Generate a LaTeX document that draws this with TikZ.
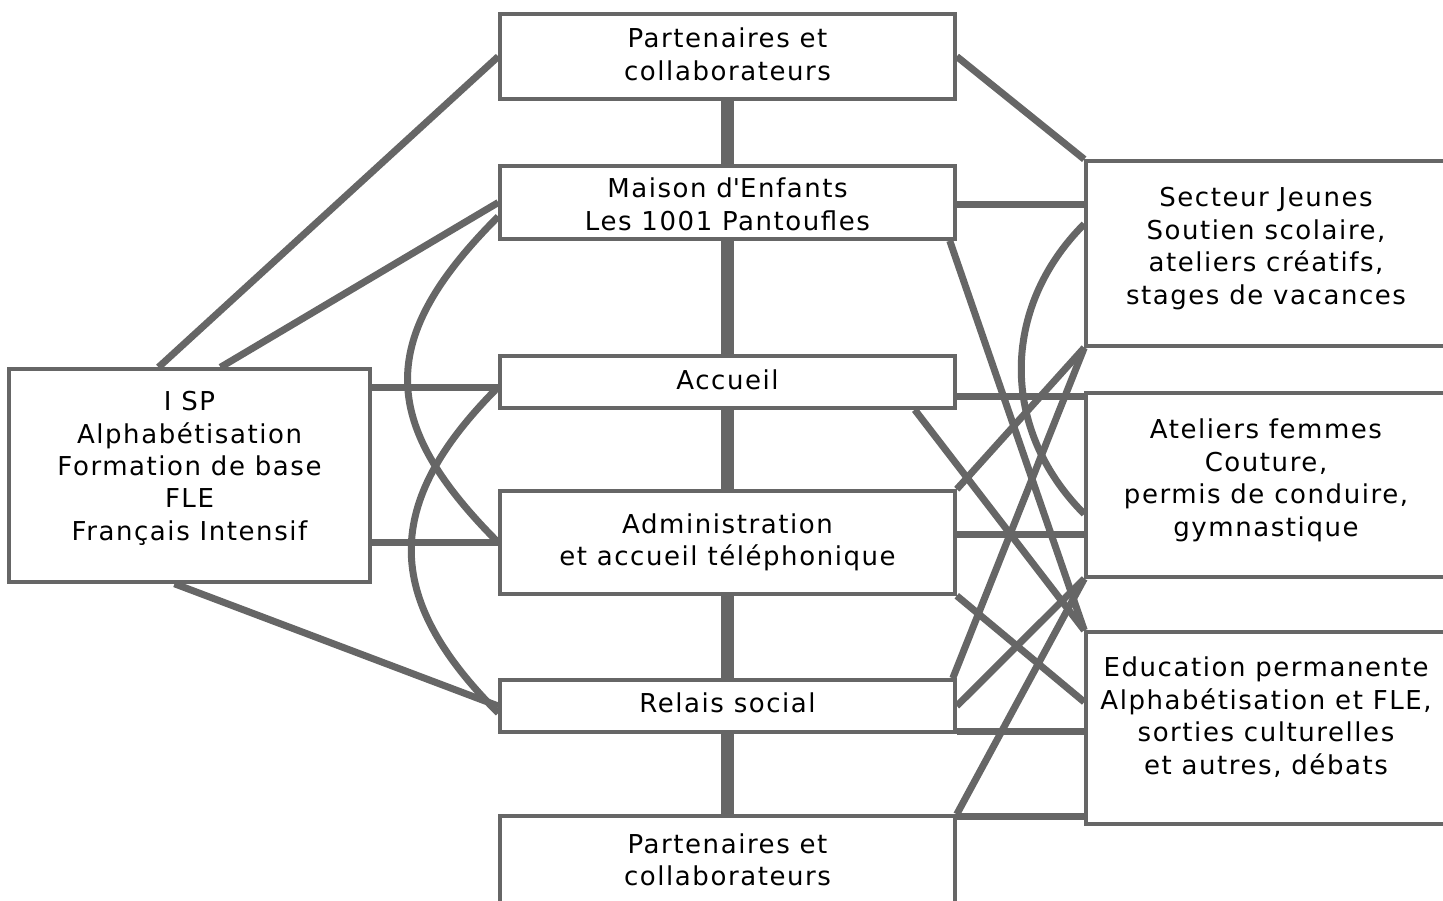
\documentclass[tikz,border=0pt]{standalone}
\usepackage{fontspec}
\setmainfont[LetterSpace=6]{DejaVu Sans}
\usetikzlibrary{calc}

\definecolor{lignegris}{HTML}{666666}
\tikzset{
  boite/.style={draw=lignegris, line width=1.75pt, inner sep=0pt, align=center,
    font=\fontsize{13}{16.2}\selectfont},
  lien/.style={draw=lignegris, line width=3.5pt},
  axe/.style={draw=lignegris, line width=6.5pt},
}
% text a bit off the middle of the boxes
\newcommand{\hausse}[2]{\raisebox{#1}[\height][\depth]{\begin{tabular}{@{}c@{}}#2\end{tabular}}}

\begin{document}
\begin{tikzpicture}[x=0.5pt, y=-0.5pt]
    \useasboundingbox (0,0) rectangle (1443,900);
    \clip (0,0) rectangle (1443,900);
    % boxes
    \node[boite, minimum width=180.5pt, minimum height=106.5pt] (isp) at (189.5,475.5)
      {\hausse{3.25pt}{I SP\\Alphab\'etisation\\Formation de base\\FLE\\Fran\c{c}ais Intensif}};
    \node[boite, minimum width=227.5pt, minimum height=42.5pt] (pa) at (727.5,56.5)
      {\hausse{-0.5pt}{Partenaires et\\collaborateurs}};
    \node[boite, minimum width=227.5pt, minimum height=36.5pt] (maison) at (727.5,202.5)
      {\hausse{-2.5pt}{Maison d\textquotesingle Enfants\\Les 1001 Pantoufles}};
    \node[boite, minimum width=227.5pt, minimum height=26pt] (accueil) at (727.5,382) {\hausse{-0.5pt}{Accueil}};
    \node[boite, minimum width=227.5pt, minimum height=51.5pt] (admin) at (727.5,542.5)
      {Administration\\et accueil t\'el\'ephonique};
    \node[boite, minimum width=227.5pt, minimum height=26pt] (relais) at (727.5,706) {\hausse{0pt}{Relais social}};
    \node[boite, minimum width=227.5pt, minimum height=44pt] (pb) at (727.5,860)
      {Partenaires et\\collaborateurs};
    \node[boite, minimum width=180pt, minimum height=92.5pt] (jeunes) at (1266,253.5)
      {\hausse{2.25pt}{Secteur Jeunes\\Soutien scolaire,\\ateliers cr\'eatifs,\\stages de vacances}};
    \node[boite, minimum width=180pt, minimum height=92pt] (femmes) at (1266,485)
      {\hausse{2pt}{Ateliers femmes\\Couture,\\permis de conduire,\\gymnastique}};
    \node[boite, minimum width=180pt, minimum height=96pt] (educ) at (1266,728)
      {\hausse{4.5pt}{Education permanente\\Alphab\'etisation et FLE,\\sorties culturelles\\et autres, d\'ebats}};

    % spine
    \draw[axe] (pa.south) -- (maison.north);
    \draw[axe] (maison.south) -- (accueil.north);
    \draw[axe] (accueil.south) -- (admin.north);
    \draw[axe] (admin.south) -- (relais.north);
    \draw[axe] (relais.south) -- (pb.north);

    % left side
    \draw[lien] ($(isp.north)+(-31,0)$) -- (pa.west);
    \draw[lien] ($(isp.north)+(31,0)$) -- (maison.west);
    \draw[lien] ($(accueil.west)+(0,5)$) coordinate (g1) -- (g1 -| isp.east);
    \draw[lien] (admin.west) -- (admin.west -| isp.east);
    \draw[lien] ($(isp.south)+(-15,0)$) -- (relais.west);
    \draw[lien] ($(maison.west)+(0,14)$) .. controls +(-121,121) and +(-121,-121) .. (admin.west);
    \draw[lien] ($(accueil.west)+(0,5)$) .. controls +(-116,116) and +(-116,-116) .. ($(relais.west)+(0,7)$);

    % right side
    \draw[lien] (pa.east) -- (jeunes.north west);
    \draw[lien] ($(maison.east)+(0,1.5)$) coordinate (d1) -- (d1 -| jeunes.west);
    \draw[lien] ($(maison.south east)+(-7,0)$) -- (educ.north west);
    \draw[lien] ($(jeunes.west)+(0,-29.5)$) .. controls +(-84,84) and +(-84,-84) .. ($(femmes.west)+(0,29)$);
    \draw[lien] ($(accueil.east)+(0,14)$) coordinate (d2) -- (d2 -| femmes.west);
    \draw[lien] ($(accueil.south east)+(-42,0)$) -- (educ.north west);
    \draw[lien] (admin.north east) -- (jeunes.south west);
    \draw[lien] ($(admin.east)+(0,-8)$) coordinate (d3) -- (d3 -| femmes.west);
    \draw[lien] (admin.south east) -- ($(educ.west)+(0,-26)$);
    \draw[lien] ($(relais.north east)+(-4,0)$) -- (jeunes.south west);
    \draw[lien] (relais.east) -- (femmes.south west);
    \draw[lien] ($(relais.south east)+(0,-2)$) coordinate (d4) -- (d4 -| educ.west);
    \draw[lien] (pb.north east) -- (femmes.south west);
    \draw[lien] ($(pb.north east)+(0,2)$) coordinate (d5) -- (d5 -| educ.west);
  \end{tikzpicture}
\end{document}
